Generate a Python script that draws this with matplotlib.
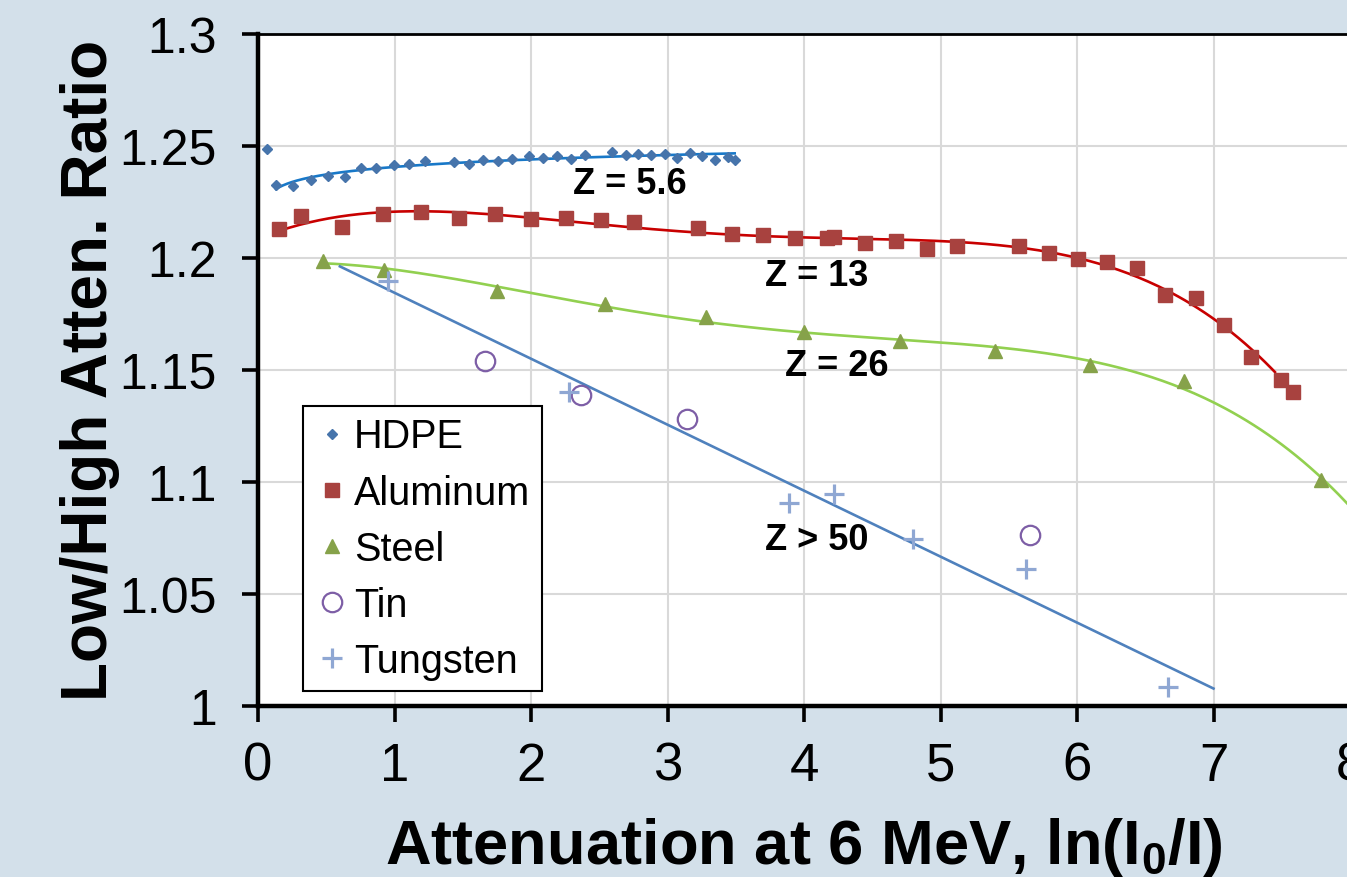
import numpy as np
import matplotlib
matplotlib.use("Agg")
import matplotlib.pyplot as plt
from matplotlib.ticker import FuncFormatter

plt.rcParams['font.family'] = ['Liberation Sans', 'DejaVu Sans']
plt.rcParams['mathtext.fontset'] = 'custom'
plt.rcParams['mathtext.rm'] = 'Liberation Sans'
plt.rcParams['mathtext.bf'] = 'Liberation Sans:bold'

# data
hdpe_x = [0.064, 0.131, 0.258, 0.387, 0.514, 0.636, 0.757, 0.867, 0.993, 1.105, 1.225,
          1.439, 1.543, 1.646, 1.755, 1.860, 1.987, 2.089, 2.189, 2.291, 2.394, 2.595,
          2.693, 2.785, 2.876, 2.978, 3.066, 3.168, 3.253, 3.351, 3.443, 3.492]
hdpe_y = [1.2484, 1.2323, 1.2318, 1.2345, 1.2365, 1.2360, 1.2400, 1.2400, 1.2415, 1.2417, 1.2432,
          1.2427, 1.2417, 1.2435, 1.2430, 1.2442, 1.2453, 1.2444, 1.2453, 1.2442, 1.2460, 1.2472,
          1.2460, 1.2464, 1.2460, 1.2464, 1.2446, 1.2467, 1.2454, 1.2438, 1.2450, 1.2435]

al_x = [0.156, 0.312, 0.619, 0.915, 1.196, 1.470, 1.736, 1.999, 2.255, 2.513, 2.754,
        3.224, 3.472, 3.703, 3.935, 4.166, 4.222, 4.446, 4.673, 4.904, 5.123, 5.578,
        5.793, 6.010, 6.218, 6.443, 6.647, 6.869, 7.078, 7.278, 7.495, 7.584]
al_y = [1.2127, 1.2187, 1.2136, 1.2194, 1.2205, 1.2178, 1.2196, 1.2171, 1.2178, 1.2166, 1.2157,
        1.2133, 1.2106, 1.2102, 1.2088, 1.2086, 1.2091, 1.2064, 1.2075, 1.2039, 1.2050, 1.2051,
        1.2020, 1.1994, 1.1981, 1.1954, 1.1835, 1.1818, 1.1699, 1.1557, 1.1452, 1.1402]

steel_x = [0.477, 0.923, 1.751, 2.540, 3.282, 4.003, 4.706, 5.402, 6.097, 6.784, 7.787]
steel_y = [1.1983, 1.1947, 1.1850, 1.1793, 1.1733, 1.1666, 1.1629, 1.1584, 1.1520, 1.1449, 1.1009]

tin_x = [1.663, 2.365, 3.146, 5.654]
tin_y = [1.1539, 1.1385, 1.1278, 1.0760]

w_x = [0.952, 2.279, 3.892, 4.223, 4.795, 5.630, 6.670]
w_y = [1.1897, 1.1402, 1.0905, 1.0945, 1.0743, 1.0610, 1.0084]
w_fit_span = [0.6, 7.0]
al_fit_end = 7.45
steel_fit_end = 8.2

labels = ["Z = 5.6", "Z = 13", "Z = 26", "Z > 50"]
label_x = [2.725, 4.09, 4.24, 4.094]
label_y = [1.2329, 1.1919, 1.1518, 1.0740]

bg = '#d3e0ea'
fig = plt.figure(figsize=(13.47, 8.78), dpi=100, facecolor=bg)
ax = fig.add_axes([0.19154, 0.19533, 0.81069, 0.76515])
ax.set_facecolor('white')

# trend lines
hx = np.array(hdpe_x[1:])
b, a = np.polyfit(np.log(hx), hdpe_y[1:], 1)
xs = np.linspace(hx.min(), hx.max(), 200)
ax.plot(xs, a + b * np.log(xs), color='#1878c8', lw=1.9, zorder=2)

p_al = np.polyfit(al_x, al_y, 4)
xs = np.linspace(min(al_x), al_fit_end, 300)
ax.plot(xs, np.polyval(p_al, xs), color='#c80000', lw=1.9, zorder=2)

p_st = np.polyfit(steel_x, steel_y, 4)
xs = np.linspace(min(steel_x), steel_fit_end, 300)
ax.plot(xs, np.polyval(p_st, xs), color='#92d050', lw=1.9, zorder=2)

p_w = np.polyfit(w_x, w_y, 1)
xs = np.array(w_fit_span)
ax.plot(xs, np.polyval(p_w, xs), color='#4f81bd', lw=1.9, zorder=2)

# markers
ax.plot(hdpe_x, hdpe_y, ls='none', marker='D', ms=5.5, color='#4674ab', label='HDPE', zorder=3)
ax.plot(al_x, al_y, ls='none', marker='s', ms=10, color='#a8423f', label='Aluminum', zorder=3)
ax.plot(steel_x, steel_y, ls='none', marker='^', ms=10.5, color='#86a24a', label='Steel', zorder=3)
ax.plot(tin_x, tin_y, ls='none', marker='o', ms=14, mfc='none', mec='#7d5ea6', mew=1.6,
        label='Tin', zorder=3)
ax.plot(w_x, w_y, ls='none', marker='+', ms=15, mew=2.3, color='#8fa7d3', label='Tungsten', zorder=3)

for t, x, y in zip(labels, label_x, label_y):
    ax.text(x, y, t, ha='center', va='center', fontsize=26, fontweight='bold')

ax.set_xlim(0, 8)
ax.set_ylim(1.0, 1.3)
ax.set_xticks(range(0, 9))
ax.set_yticks(np.arange(1.0, 1.3001, 0.05))
ax.yaxis.set_major_formatter(FuncFormatter(lambda v, p: '%g' % round(v, 2)))
ax.grid(True, color='#d9d9d9', lw=1.5, zorder=0)
ax.set_axisbelow(True)

for s in ['left', 'bottom']:
    ax.spines[s].set_linewidth(3.2)
ax.spines['top'].set_linewidth(2)
ax.spines['right'].set_visible(False)
ax.tick_params(axis='both', direction='out', length=11.5, width=2.6, color='black')
ax.tick_params(axis='x', labelsize=38, pad=14)
ax.tick_params(axis='y', labelsize=36, pad=18)

ax.set_xlabel(r'Attenuation at 6 MeV, ln(I$_{\mathbf{0}}$/I)', fontsize=45.5, fontweight='bold')
ax.xaxis.set_label_coords(0.5, -0.163)
ax.set_ylabel('Low/High Atten. Ratio', fontsize=46, fontweight='bold')
ax.yaxis.set_label_coords(-0.126, 0.5)

leg = ax.legend(loc='upper left', bbox_to_anchor=(0.041, 0.4454), borderaxespad=0,
                fontsize=28.5, frameon=True, fancybox=False, framealpha=1, edgecolor='black',
                borderpad=0.28, labelspacing=0.46, handlelength=0.9, handletextpad=0.12)
leg.get_frame().set_linewidth(1.5)

plt.savefig('out.png', dpi=100, facecolor=bg)
